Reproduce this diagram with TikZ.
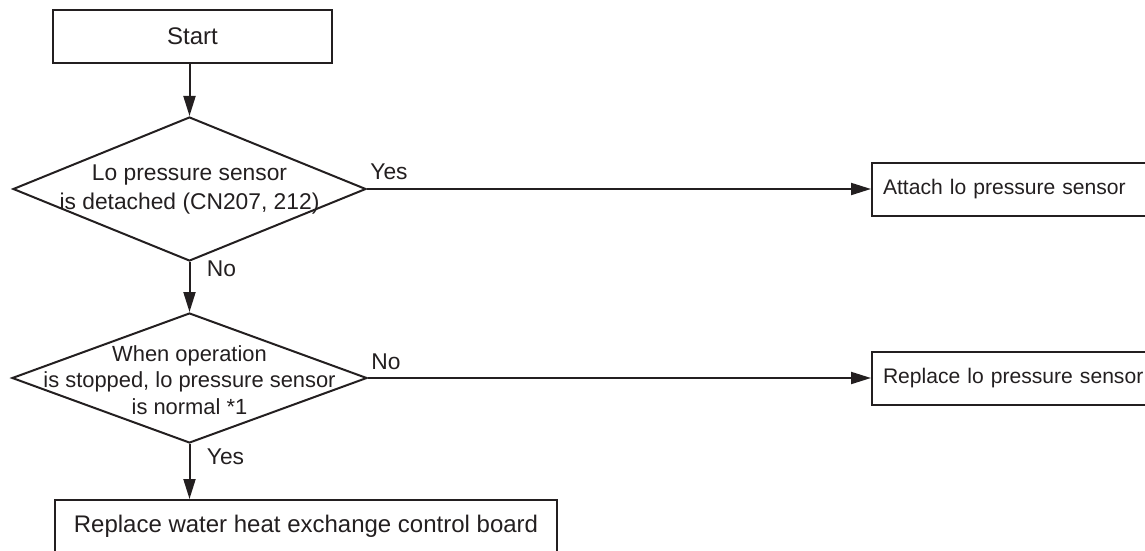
\documentclass[tikz,border=0pt]{standalone}
\usepackage{fontspec}
\setmainfont{Liberation Sans}
\usetikzlibrary{shapes.geometric,arrows.meta}
\definecolor{ink}{HTML}{231F20}
\tikzset{
  every node/.style={text=ink},
  boxnode/.style={draw=ink, line width=1pt, rectangle, minimum height=26.5pt, inner sep=0pt},
  decnode/.style={draw=ink, line width=1pt, diamond, inner sep=0pt},
  dectext/.style={align=center, inner sep=0pt},
  lbl/.style={inner sep=0pt, font=\fontsize{11.4}{13.5}\selectfont},
  arr/.style={draw=ink, line width=1pt, -{Triangle[length=10pt,width=6pt]}},
  conn/.style={draw=ink, line width=1pt}
}
\begin{document}
\begin{tikzpicture}[x=0.5pt,y=-0.5pt]
\useasboundingbox (0,0) rectangle (1145,551);
\node[boxnode, minimum width=139.5pt, font=\fontsize{12}{14}\selectfont] (start) at (192.5,36.5) {Start};
\node[decnode, minimum width=176.5pt, minimum height=72pt] (d1) at (189.5,189) {};
\node[dectext, font=\fontsize{11.4}{14.5}\selectfont] (t1) at (189.5,189.5) {Lo pressure sensor\\is detached (CN207, 212)};
\node[decnode, minimum width=177.5pt, minimum height=65pt] (d2) at (189.5,378) {};
\node[dectext, font=\fontsize{10.95}{13.25}\selectfont] (t2) at (189.5,380) {When operation\\is stopped, lo pressure sensor\\is normal *1};
\node[boxnode, anchor=west, text width=140pt, inner xsep=5.5pt, align=left, font=\fontsize{10.55}{13}\selectfont] (attach) at (871,189) {Attach lo pressure sensor};
\node[boxnode, anchor=west, text width=140pt, inner xsep=5.5pt, align=left, font=\fontsize{10.55}{13}\selectfont] (replace) at (871,378) {Replace lo pressure sensor};
\node[boxnode, minimum width=251pt, font=\fontsize{12}{14}\selectfont] (board) at (306,526.5) {Replace water heat exchange control board};
\draw[arr] (start.south -| d1.north) -- (d1.north);
\draw[arr] (d1.east) -- (attach.west);
\draw[arr] (d1.south) -- (d2.north);
\draw[arr] (d2.east) -- (replace.west);
\draw[arr] (d2.south) -- (board.north -| d2.south);
\node[lbl, anchor=base west] (y1) at ([xshift=1.5pt,yshift=5pt]d1.east) {Yes};
\node[lbl, anchor=base west] (n1) at ([xshift=8.5pt,yshift=-7pt]d1.south) {No};
\node[lbl, anchor=base west] (n2) at ([xshift=1.5pt,yshift=4.5pt]d2.east) {No};
\node[lbl, anchor=base west] (y2) at ([xshift=8.5pt,yshift=-10pt]d2.south) {Yes};
\end{tikzpicture}
\end{document}
